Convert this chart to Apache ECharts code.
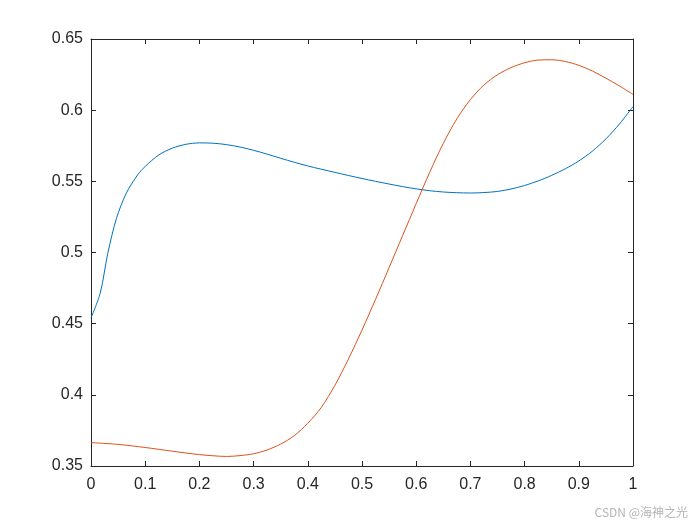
<!DOCTYPE html>
<html>
<head>
<meta charset="utf-8">
<script src="https://cdn.jsdelivr.net/npm/echarts@6/dist/echarts.min.js"></script>
<style>html,body{margin:0;padding:0;background:#fff}#c{width:700px;height:525px}</style>
</head>
<body>
<div id="c"></div>
<script>
const blueX = [0, 0.017, 0.031, 0.047, 0.065, 0.086, 0.1, 0.125, 0.15, 0.175, 0.2, 0.225, 0.25, 0.275, 0.3, 0.325, 0.35, 0.375, 0.4, 0.425, 0.45, 0.475, 0.5, 0.525, 0.55, 0.575, 0.6, 0.625, 0.65, 0.675, 0.7, 0.725, 0.75, 0.775, 0.8, 0.825, 0.85, 0.875, 0.9, 0.925, 0.95, 0.975, 1.0];
const blueY = [0.454, 0.4714, 0.4995, 0.524, 0.5416, 0.5545, 0.5605, 0.5685, 0.5733, 0.576, 0.577, 0.5768, 0.5758, 0.5741, 0.5718, 0.5691, 0.5662, 0.5634, 0.5608, 0.5585, 0.5563, 0.5541, 0.552, 0.55, 0.5481, 0.5463, 0.5447, 0.5434, 0.5425, 0.542, 0.5418, 0.5421, 0.5429, 0.5446, 0.5471, 0.5503, 0.5542, 0.5588, 0.5643, 0.5712, 0.5798, 0.5903, 0.6025];
const orangeX = [0, 0.05, 0.1, 0.15, 0.2, 0.225, 0.25, 0.275, 0.3, 0.325, 0.35, 0.375, 0.4, 0.425, 0.45, 0.475, 0.5, 0.525, 0.55, 0.575, 0.6, 0.625, 0.65, 0.675, 0.7, 0.725, 0.75, 0.775, 0.8, 0.825, 0.85, 0.875, 0.9, 0.925, 0.95, 0.975, 1.0];
const orangeY = [0.3664, 0.3652, 0.363, 0.3604, 0.358, 0.3572, 0.3567, 0.3573, 0.3586, 0.3613, 0.3654, 0.3713, 0.38, 0.3912, 0.4067, 0.4252, 0.4455, 0.4671, 0.4894, 0.5119, 0.5344, 0.5564, 0.5767, 0.5939, 0.6074, 0.6177, 0.6249, 0.6299, 0.6333, 0.6352, 0.6354, 0.6342, 0.6315, 0.6275, 0.6225, 0.617, 0.6111];
const xTicks = {min: 0, max: 1, interval: 0.1};
const yTicks = {min: 0.35, max: 0.65, interval: 0.05};

const chart = echarts.init(document.getElementById('c'), null, {renderer: 'canvas'});
const axisColor = '#262626';
const font = 'Liberation Sans, Arial, Helvetica, sans-serif';
const pair = (xs, ys) => xs.map((x, i) => [x, ys[i]]);
const baseAxis = {
  type: 'value',
  axisLine: {show: true, onZero: false, lineStyle: {color: axisColor, width: 1}},
  axisTick: {show: true, inside: true, length: 5, lineStyle: {color: axisColor, width: 1}},
  splitLine: {show: false}
};
chart.setOption({
  animation: false,
  backgroundColor: '#fff',
  grid: {left: 91, right: 67, top: 39, bottom: 59, containLabel: false},
  xAxis: [
    Object.assign({}, baseAxis, xTicks, {position: 'bottom',
      axisLabel: {color: axisColor, fontSize: 16, fontFamily: font, margin: 11}}),
    Object.assign({}, baseAxis, xTicks, {position: 'top', axisLabel: {show: false}})
  ],
  yAxis: [
    Object.assign({}, baseAxis, yTicks, {position: 'left',
      axisLabel: {color: axisColor, fontSize: 16, fontFamily: font, margin: 8}}),
    Object.assign({}, baseAxis, yTicks, {position: 'right', axisLabel: {show: false}})
  ],
  series: [
    {type: 'line', data: pair(blueX, blueY), smooth: 0.3, showSymbol: false,
      lineStyle: {color: '#0072BD', width: 1}, itemStyle: {color: '#0072BD'}},
    {type: 'line', data: pair(orangeX, orangeY), smooth: 0.3, showSymbol: false,
      lineStyle: {color: '#D95319', width: 1}, itemStyle: {color: '#D95319'}}
  ],
  graphic: [{
    type: 'text', right: 12, top: 506,
    style: {text: 'CSDN @海神之光', fill: '#b4b4b4', fontSize: 12, fontFamily: 'Noto Sans CJK SC, sans-serif'}
  }]
});
</script>
</body>
</html>
